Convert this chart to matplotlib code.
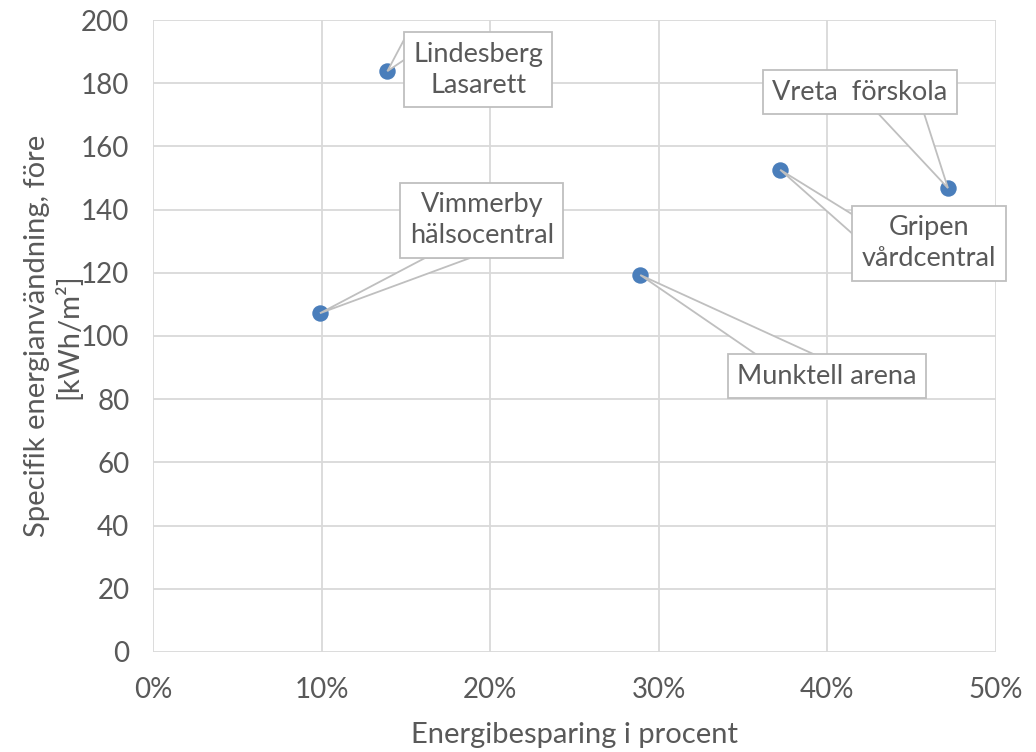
import matplotlib
matplotlib.use("Agg")
import matplotlib.pyplot as plt
from matplotlib.patches import Polygon
from matplotlib.ticker import FuncFormatter

# data
names    = ["Lindesberg\nLasarett", "Vimmerby\nhälsocentral", "Munktell arena",
            "Gripen\nvårdcentral", "Vreta  förskola"]
savings  = [0.139, 0.099, 0.289, 0.372, 0.4715]
energy   = [183.8, 107.2, 119.3, 152.6, 146.8]

# callout box centres (data coords) and wedge base offsets from them (pixels)
label_pos = [(0.1928, 184.2), (0.1951, 136.7), (0.3998, 87.3),
             (0.4603, 129.4), (0.4193, 177.2)]
wedge_base = [((-71, 36), (-71, 12)), ((-57, -38), (-12, -38)),
              ((-67, 19), (-7, 19)), ((-74, 27), (-74, 7)),
              ((15, -18), (63, -18))]

TXT  = "#595959"
GRID = "#d9d9d9"
EDGE = "#bfbfbf"
BLUE = "#4a7ebb"

plt.rcParams["font.family"] = ["Lato", "DejaVu Sans"]

fig = plt.figure(figsize=(10.36, 7.52), dpi=100)
ax = fig.add_axes([0.1477, 0.133, 0.8137, 0.8404])

ax.set_xlim(0, 0.5)
ax.set_ylim(0, 200)
ax.set_xticks([0, 0.1, 0.2, 0.3, 0.4, 0.5])
ax.set_yticks(range(0, 201, 20))
ax.xaxis.set_major_formatter(FuncFormatter(lambda v, _: f"{v*100:.0f}%"))
ax.grid(True, color=GRID, lw=1.3)
ax.set_axisbelow(True)
for s in ax.spines.values():
    s.set_visible(False)
ax.tick_params(length=0, labelsize=20, colors=TXT)
ax.tick_params(axis="x", pad=18)
ax.tick_params(axis="y", pad=17)

ax.scatter(savings, energy, s=140, color=BLUE, zorder=3, linewidths=0)

inv = ax.transData.inverted()
for name, x, y, (lx, ly), (b1, b2) in zip(names, savings, energy, label_pos, wedge_base):
    cx, cy = ax.transData.transform((lx, ly))
    p1 = inv.transform((cx + b1[0], cy + b1[1]))
    p2 = inv.transform((cx + b2[0], cy + b2[1]))
    ax.add_patch(Polygon([p1, (x, y), p2], closed=True, fc="white", ec=EDGE,
                         lw=1.3, zorder=4))
    ax.text(lx, ly, name, ha="center", va="center", multialignment="center",
            fontsize=19.5, color=TXT, linespacing=1.3, zorder=5,
            bbox=dict(boxstyle="square,pad=0.35", fc="white", ec=EDGE, lw=1.3))

ax.set_xlabel("Energibesparing i procent", fontsize=21, color=TXT, labelpad=14)
fig.text(0.051, 0.553, "Specifik energianvändning, före\n[kWh/m²]", rotation=90,
         ha="center", va="center", multialignment="center", fontsize=21,
         color=TXT, linespacing=1.2)

fig.savefig("out.png", dpi=100)
